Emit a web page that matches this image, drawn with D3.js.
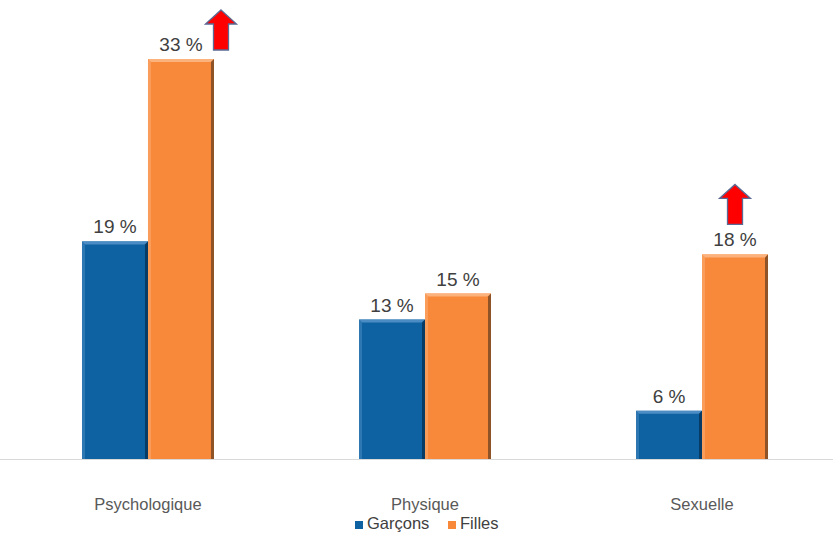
<!DOCTYPE html>
<html><head><meta charset="utf-8">
<script src="https://cdn.jsdelivr.net/npm/d3@7"></script>
<style>html,body{margin:0;padding:0;background:#fff;}svg{display:block;font-family:"Liberation Sans",Arial,sans-serif;}</style>
</head><body>
<svg id="c" width="833" height="533"></svg>
<script>
const categories = ["Psychologique", "Physique", "Sexuelle"];
const seriesNames = ["Garçons", "Filles"];
const garcons = [19, 13, 6];
const filles = [33, 15, 18];
const arrowCategories = ["Psychologique", "Sexuelle"];

const colors = {"Garçons": "#0F62A1", "Filles": "#F8893B"};
const light = {"Garçons": "#4b8cc4", "Filles": "#fbb27c"};
const dark = {"Garçons": "#08365a", "Filles": "#7c4a26"};

const svg = d3.select("#c");
const baseY = 459;

const x0 = d3.scaleBand().domain(categories).range([0, 850]).paddingInner(0.5235).paddingOuter(0.296);
const x1 = d3.scaleBand().domain(seriesNames).range([0, x0.bandwidth()]).padding(0);
const y = d3.scaleLinear().domain([2.3, 33]).range([baseY, 59]);

const data = [];
categories.forEach((c, i) => {
  data.push({cat: c, s: "Garçons", v: garcons[i]});
  data.push({cat: c, s: "Filles", v: filles[i]});
});

// axis line
svg.append("line").attr("x1", 0).attr("x2", 833).attr("y1", baseY + 0.5).attr("y2", baseY + 0.5)
  .attr("stroke", "#d9d9d9").attr("stroke-width", 1.2);

const g = svg.append("g");
const bars = g.selectAll("g.bar").data(data).join("g").attr("class", "bar")
  .attr("transform", d => `translate(${x0(d.cat) + x1(d.s)},0)`);
const w = x1.bandwidth();
bars.append("rect").attr("x", 0).attr("y", d => y(d.v)).attr("width", w).attr("height", d => baseY - y(d.v))
  .attr("fill", d => colors[d.s]);
// top bevel
bars.append("path").attr("d", d => {
  const t = y(d.v);
  return `M0,${t}H${w}L${w-3},${t+3}H3Z`;
}).attr("fill", d => light[d.s]);
// left bevel
bars.append("path").attr("d", d => {
  const t = y(d.v);
  return `M0,${t}L3,${t+3}V${baseY}H0Z`;
}).attr("fill", d => light[d.s]).attr("opacity", 0.5);
// right shadow
bars.append("path").attr("d", d => {
  const t = y(d.v);
  return `M${w},${t}L${w-3},${t+3}V${baseY}H${w}Z`;
}).attr("fill", d => dark[d.s]).attr("opacity", 0.85);

// value labels
g.selectAll("text.val").data(data).join("text").attr("class", "val")
  .attr("x", d => x0(d.cat) + x1(d.s) + w / 2)
  .attr("y", d => y(d.v) - 8)
  .attr("text-anchor", "middle").attr("font-size", 19).attr("fill", "#404040")
  .text(d => d.v + " %");

// category labels
svg.selectAll("text.cat").data(categories).join("text").attr("class", "cat")
  .attr("x", d => x0(d) + x0.bandwidth() / 2).attr("y", 510)
  .attr("text-anchor", "middle").attr("font-size", 16.5).attr("fill", "#595959").text(d => d);

// arrows
function arrowPath(cx, tip) {
  const hw = 15.5, sw = 7.5, hh = 14, total = 40;
  return `M${cx},${tip}L${cx+hw},${tip+hh}H${cx+sw}V${tip+total}H${cx-sw}V${tip+hh}H${cx-hw}Z`;
}
const arrowInfo = arrowCategories.map(c => {
  const i = categories.indexOf(c);
  const bx = x0(c) + x1("Filles") + w / 2;
  const top = y(filles[i]);
  return i === 0 ? {cx: bx + 40, tip: top - 49} : {cx: bx, tip: top - 70};
});
svg.selectAll("path.arrow").data(arrowInfo).join("path").attr("class", "arrow")
  .attr("d", d => arrowPath(d.cx, d.tip))
  .attr("fill", "#ff0000").attr("stroke", "#5a6a94").attr("stroke-width", 1.3);

// legend
const leg = svg.append("g");
const legX = [355, 448];
seriesNames.forEach((s, i) => {
  leg.append("rect").attr("x", legX[i]).attr("y", 521).attr("width", 8).attr("height", 8).attr("fill", colors[s]);
  leg.append("text").attr("x", legX[i] + 12).attr("y", 529).attr("font-size", 16.5).attr("fill", "#404040").text(s);
});
</script>
</body></html>
